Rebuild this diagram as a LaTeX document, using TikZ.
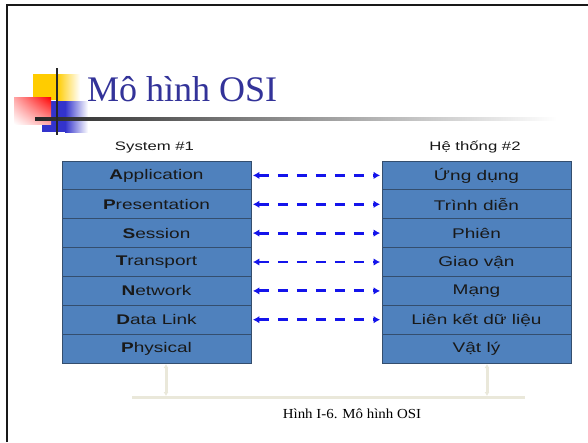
\documentclass[tikz,border=0pt]{standalone}
\usepackage{fontspec}
\setmainfont{Liberation Serif}
\newfontfamily\boxfont[FakeStretch=1.36]{Liberation Sans}
\newfontfamily\capfont[FakeStretch=1.08]{Liberation Serif}
\usetikzlibrary{arrows.meta,shadings}
\definecolor{boxblue}{RGB}{79,129,189}
\definecolor{boxedge}{RGB}{52,78,110}
\definecolor{titleblue}{RGB}{51,51,153}
\definecolor{arrowblue}{RGB}{20,20,235}
\definecolor{busline}{RGB}{234,232,218}
\definecolor{decoyellow}{RGB}{255,204,0}
\definecolor{decoblue}{RGB}{51,51,204}
\begin{document}
\begin{tikzpicture}[x=1pt,y=-1pt,
 layer/.style={draw=boxedge,line width=0.8pt,fill=boxblue,minimum width=189pt,minimum height=28.86pt,inner sep=0pt,font=\boxfont\fontsize{14}{16}\selectfont,text=black!90},
 hdr/.style={anchor=base,font=\boxfont\fontsize{12.3}{14}\selectfont,text=black!90,inner sep=0pt},
 peer/.style={arrowblue,line width=2.9pt,dash pattern=on 10pt off 9pt,{Latex[length=6.5pt,width=7.5pt]}-{Latex[length=6.5pt,width=7.5pt]},shorten <=1.5pt,shorten >=1.5pt},
 bus/.style={busline,line width=3pt}]
\useasboundingbox (0,0) rectangle (588,442);
\fill[white] (0,0) rectangle (588,442);
% frame
\draw[line width=2.5pt,black!90] (7,442) -- (7,5) -- (588,5);
% decoration
\fill[decoyellow] (33,74) rectangle (57,100);
\shade[left color=decoyellow,right color=white] (57,74) rectangle (80,100);
\fill[decoblue] (42,101) rectangle (65,132);
\shade[left color=decoblue,right color=white] (65,101) rectangle (88,132);
\shade[upper left=red!35!white,upper right=red,lower left=white,lower right=red!35!white] (14,97) rectangle (51,124);
\shade[left color=black!85,right color=white] (35,117.8) rectangle (557,120.2);
\draw[line width=2pt,black!85] (57,68) -- (57,135);
% title
\node[anchor=base west,text=titleblue,font=\fontsize{36}{40}\selectfont,inner sep=0pt] (title) at (87,101) {Mô hình OSI};
% headers
\node[hdr] (h1) at (154.5,150.5) {System \#1};
\node[hdr] (h2) at (475,150.5) {Hệ thống \#2};
% left stack
\node[layer] (L1) at (156.5,175.4) {\textbf{A}pplication};
\node[layer] (L2) at (156.5,204.3) {\textbf{P}resentation};
\node[layer] (L3) at (156.5,233.1) {\textbf{S}ession};
\node[layer] (L4) at (156.5,262.0) {\textbf{T}ransport};
\node[layer] (L5) at (156.5,290.9) {\textbf{N}etwork};
\node[layer] (L6) at (156.5,319.7) {\textbf{D}ata Link};
\node[layer] (L7) at (156.5,348.6) {\textbf{P}hysical};
% right stack
\node[layer] (R1) at (476.5,175.4) {Ứng dụng};
\node[layer] (R2) at (476.5,204.3) {Trình diễn};
\node[layer] (R3) at (476.5,233.1) {Phiên};
\node[layer] (R4) at (476.5,262.0) {Giao vận};
\node[layer] (R5) at (476.5,290.9) {Mạng};
\node[layer] (R6) at (476.5,319.7) {Liên kết dữ liệu};
\node[layer] (R7) at (476.5,348.6) {Vật lý};
% peer arrows
\foreach \i in {1,...,6} {\draw[peer] (L\i.east) -- (R\i.west);}
% physical medium
\coordinate (t1) at (166,364);
\coordinate (b1) at (166,396);
\coordinate (t2) at (487,364);
\coordinate (b2) at (487,396);
\coordinate (m1) at (132,397.5);
\coordinate (m2) at (525,397.5);
\draw[bus,{Latex[length=4pt,width=5pt]}-{Latex[length=4pt,width=5pt]}] (t1) -- (b1);
\draw[bus,{Latex[length=4pt,width=5pt]}-{Latex[length=4pt,width=5pt]}] (t2) -- (b2);
\draw[busline,line width=3.5pt] (m1) -- (m2);
% caption
\node[anchor=base,font=\capfont\fontsize{13.8}{16}\selectfont,inner sep=0pt] (cap) at (352,418) {Hình I-6. Mô hình OSI};
\end{tikzpicture}
\end{document}
